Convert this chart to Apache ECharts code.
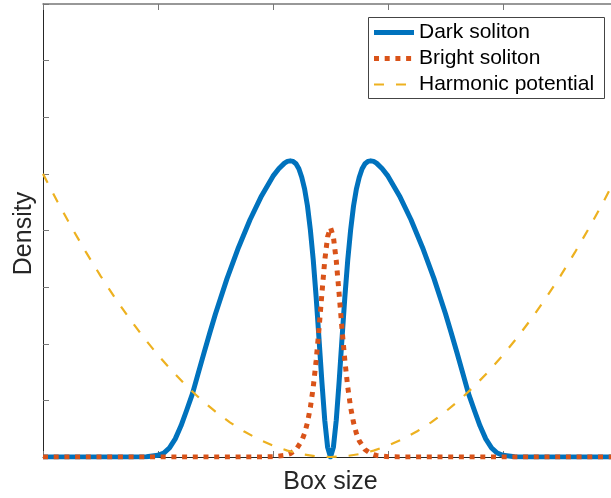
<!DOCTYPE html>
<html>
<head>
<meta charset="utf-8">
<script src="https://cdn.jsdelivr.net/npm/echarts@6/dist/echarts.min.js"></script>
<style>html,body{margin:0;padding:0;background:#fff;overflow:hidden}#c{width:611px;height:498px}</style>
</head>
<body>
<div id="c"></div>
<script>
const seriesNames = ['Dark soliton', 'Bright soliton', 'Harmonic potential'];
const xLabel = 'Box size';
const yLabel = 'Density';

const darkX = [0, 1.5, 1.8, 2.0, 2.1, 2.2, 2.3, 2.4, 2.5, 2.6, 2.7, 2.8, 2.9, 3.0, 3.2, 3.4, 3.6, 3.8, 4.0, 4.1,
  4.2, 4.25, 4.3, 4.35, 4.4, 4.45, 4.5, 4.55, 4.6, 4.65, 4.7, 4.75, 4.8, 4.85, 4.9, 4.95, 5.0,
  5.05, 5.1, 5.15, 5.2, 5.25, 5.3, 5.35, 5.4, 5.45, 5.5, 5.55, 5.6, 5.65, 5.7, 5.75, 5.8, 5.9, 6.0, 6.2,
  6.4, 6.6, 6.8, 7.0, 7.1, 7.2, 7.3, 7.4, 7.5, 7.6, 7.7, 7.8, 7.9, 8.0, 8.2, 8.5, 10];
const darkY = [0, 0, 0.005, 0.03, 0.07, 0.16, 0.32, 0.55, 0.83, 1.12, 1.48, 1.84, 2.19, 2.53, 3.15, 3.70, 4.19, 4.61, 4.96, 5.09,
  5.19, 5.22, 5.23, 5.22, 5.18, 5.09, 4.94, 4.73, 4.43, 4.01, 3.48, 2.83, 2.09, 1.33, 0.65, 0.17, 0,
  0.17, 0.65, 1.33, 2.09, 2.83, 3.48, 4.01, 4.43, 4.73, 4.94, 5.09, 5.18, 5.22, 5.23, 5.22, 5.19, 5.09, 4.96, 4.61,
  4.19, 3.70, 3.15, 2.53, 2.19, 1.84, 1.48, 1.12, 0.83, 0.55, 0.32, 0.16, 0.07, 0.03, 0.005, 0, 0];

const brightX = [0, 3.8, 4.0, 4.2, 4.3, 4.4, 4.5, 4.55, 4.6, 4.65, 4.7, 4.75, 4.8, 4.85, 4.9, 4.95, 5.0,
  5.05, 5.1, 5.15, 5.2, 5.25, 5.3, 5.35, 5.4, 5.45, 5.5, 5.6, 5.7, 5.8, 6.0, 6.2, 10];
const brightY = [0, 0.001, 0.005, 0.027, 0.059, 0.131, 0.286, 0.419, 0.61, 0.875, 1.235, 1.70, 2.26, 2.88, 3.47, 3.89, 4.05,
  3.89, 3.47, 2.88, 2.26, 1.70, 1.235, 0.875, 0.61, 0.419, 0.286, 0.131, 0.059, 0.027, 0.005, 0.001, 0];

const harmX = [0, 0.25, 0.5, 0.75, 1, 1.25, 1.5, 1.75, 2, 2.25, 2.5, 2.75, 3, 3.25, 3.5, 3.75, 4, 4.25, 4.5, 4.75, 5,
  5.25, 5.5, 5.75, 6, 6.25, 6.5, 6.75, 7, 7.25, 7.5, 7.75, 8, 8.25, 8.5, 8.75, 9, 9.25, 9.5, 9.75, 10];
const harmY = [5, 4.5125, 4.05, 3.6125, 3.2, 2.8125, 2.45, 2.1125, 1.8, 1.5125, 1.25, 1.0125, 0.8, 0.6125, 0.45, 0.3125, 0.2, 0.1125, 0.05, 0.0125, 0,
  0.0125, 0.05, 0.1125, 0.2, 0.3125, 0.45, 0.6125, 0.8, 1.0125, 1.25, 1.5125, 1.8, 2.1125, 2.45, 2.8125, 3.2, 3.6125, 4.05, 4.5125, 5];

const FONT = '"Liberation Sans", Arial, Helvetica, sans-serif';
const C_BLUE = '#0072BD', C_RED = '#D95319', C_YEL = '#EDB120';

function pairs(xs, ys) { return xs.map((x, i) => [x, ys[i]]); }

function axis(pos, lineColor, lineWidth, min, max, interval) {
  return {
    type: 'value', position: pos, min: min, max: max, interval: interval,
    axisLine: { show: true, onZero: false, lineStyle: { color: lineColor, width: lineWidth } },
    axisTick: { show: true, inside: true, length: 6, lineStyle: { color: '#777', width: 1 } },
    axisLabel: { show: false },
    splitLine: { show: false }
  };
}

const chart = echarts.init(document.getElementById('c'), null, { renderer: 'canvas' });
const option = {
  animation: false,
  backgroundColor: '#fff',
  grid: { left: 43, top: 4, width: 575, height: 453, containLabel: false, outerBoundsMode: 'none' },
  xAxis: [axis('bottom', '#262626', 1, 0, 10, 2), axis('top', '#777', 1.5, 0, 10, 2)],
  yAxis: [axis('left', '#262626', 1, 0, 8, 1), axis('right', '#262626', 1, 0, 8, 1)],
  series: [
    { name: seriesNames[0], type: 'line', data: pairs(darkX, darkY), symbol: 'none', silent: true,
      lineStyle: { color: C_BLUE, width: 5, join: 'round' } },
    { name: seriesNames[1], type: 'line', data: pairs(brightX, brightY), symbol: 'none', silent: true,
      lineStyle: { color: C_RED, width: 5, type: [5, 5.7] } },
    { name: seriesNames[2], type: 'line', data: pairs(harmX, harmY), symbol: 'none', silent: true,
      lineStyle: { color: C_YEL, width: 2.2, type: [10, 12] } }
  ],
  graphic: [
    { type: 'text', x: 330.5, y: 482.5, z: 100,
      style: { text: xLabel, fontSize: 25, fontFamily: FONT, fill: '#262626', align: 'center', verticalAlign: 'middle' } },
    { type: 'text', x: 24.5, y: 233.5, rotation: Math.PI / 2, z: 100,
      style: { text: yLabel, fontSize: 25, fontFamily: FONT, fill: '#262626', align: 'center', verticalAlign: 'middle' } },
    { type: 'rect', z: 100, shape: { x: 368.5, y: 17.5, width: 236, height: 81 },
      style: { fill: '#fff', stroke: '#444', lineWidth: 1 } },
    { type: 'line', z: 101, shape: { x1: 374, y1: 32.5, x2: 414, y2: 32.5 },
      style: { stroke: C_BLUE, lineWidth: 5 } },
    { type: 'line', z: 101, shape: { x1: 374, y1: 58.5, x2: 414, y2: 58.5 },
      style: { stroke: C_RED, lineWidth: 5, lineDash: [5, 5.7] } },
    { type: 'line', z: 101, shape: { x1: 374, y1: 84.5, x2: 414, y2: 84.5 },
      style: { stroke: C_YEL, lineWidth: 2.2, lineDash: [10, 12] } },
    { type: 'text', x: 419, y: 32.5, z: 101,
      style: { text: seriesNames[0], fontSize: 21, fontFamily: FONT, fill: '#000', align: 'left', verticalAlign: 'middle' } },
    { type: 'text', x: 419, y: 58.5, z: 101,
      style: { text: seriesNames[1], fontSize: 21, fontFamily: FONT, fill: '#000', align: 'left', verticalAlign: 'middle' } },
    { type: 'text', x: 419, y: 84.5, z: 101,
      style: { text: seriesNames[2], fontSize: 21, fontFamily: FONT, fill: '#000', align: 'left', verticalAlign: 'middle' } }
  ]
};
chart.setOption(option);
</script>
</body>
</html>
